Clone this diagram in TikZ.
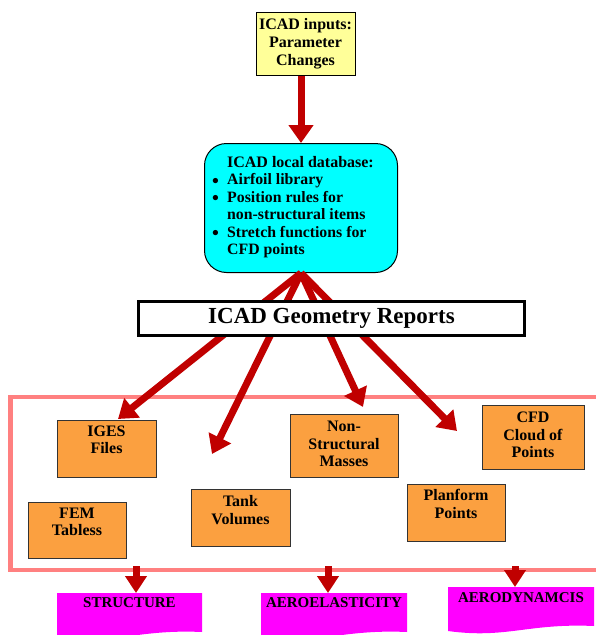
\documentclass[tikz,border=0pt]{standalone}
\usepackage{fontspec}
\setmainfont{Liberation Serif}
\usetikzlibrary{arrows.meta,calc}
\definecolor{arrred}{RGB}{192,0,0}
\definecolor{inyellow}{RGB}{255,255,153}
\definecolor{dbcyan}{RGB}{0,255,255}
\definecolor{boxorange}{RGB}{251,160,64}
\definecolor{docmag}{RGB}{255,0,255}
\definecolor{framepink}{RGB}{255,128,128}
\newcommand{\mybul}{\makebox[15pt][l]{\raisebox{-2.5pt}{\fontsize{19.5}{17.5}\selectfont\textbullet}}}
\begin{document}
\begin{tikzpicture}[x=1pt,y=-1pt,
  bigarrow/.style={draw=arrred, line width=7pt, -{Triangle[width=24pt,length=18pt]}},
  smallarrow/.style={draw=arrred, line width=7pt, -{Triangle[width=21pt,length=17pt]}},
  obox/.style={draw=black!80, line width=1pt, fill=boxorange, inner sep=0pt, anchor=north west},
  otext/.style={align=center, inner sep=0pt, font=\bfseries\fontsize{16}{17.5}\selectfont},
  doctext/.style={inner sep=0pt, font=\bfseries\fontsize{15}{17}\selectfont},
  docshape/.style={fill=docmag, draw=none}]
\useasboundingbox (0,0) rectangle (595,635);

% pink frame
\draw[framepink, line width=4.5pt] (10.5,397) rectangle (610,570);

% input box
\node[draw=black, line width=1pt, fill=inyellow, minimum width=99pt, minimum height=63pt, inner sep=0pt, anchor=north west,
      align=center, font=\bfseries\fontsize{16}{17.8}\selectfont] (inp) at (255.5,12) {ICAD inputs:\\Parameter\\Changes};

% database box
\node[draw=black, line width=1pt, fill=dbcyan, rounded corners=22pt, minimum width=193pt, minimum height=129pt,
      inner sep=0pt, anchor=north west] (db) at (204,143) {};
\node[inner sep=0pt, font=\bfseries\fontsize{16}{17.5}\selectfont] (dbtitle) at (300.5,162) {ICAD local database:};
\node[inner sep=0pt, anchor=base west, font=\bfseries\fontsize{15.8}{17.6}\selectfont] (dblist) at (212,184.5)
  {\begin{tabular}[t]{@{}l@{}l@{}}
   \mybul & Airfoil library\\
   \mybul & Position rules for\\
   & non-structural items\\
   \mybul & Stretch functions for\\
   & CFD points
   \end{tabular}};

% orange boxes
\node[obox, minimum width=99pt, minimum height=57pt] (iges) at (57,420) {};
\node[otext] (igesT) at (106.5,440) {IGES\\Files};
\node[obox, minimum width=98pt, minimum height=56pt] (fem) at (28,502) {};
\node[otext] (femT) at (77,522) {FEM\\Tabless};
\node[obox, minimum width=99pt, minimum height=57pt] (tank) at (191,489) {};
\node[otext] (tankT) at (240.5,510) {Tank\\Volumes};
\node[obox, minimum width=108pt, minimum height=63pt] (nsm) at (290,414) {};
\node[otext] (nsmT) at (344,444) {Non-\\Structural\\Masses};
\node[obox, minimum width=102pt, minimum height=64pt] (cfd) at (482,405) {};
\node[otext] (cfdT) at (533,435) {CFD\\Cloud of\\Points};
\node[obox, minimum width=98pt, minimum height=57pt] (plan) at (407,484) {};
\node[otext] (planT) at (456,504) {Planform\\Points};

% arrow end points
\coordinate (eIges) at (118,419);
\coordinate (eTank) at (212,454);
\coordinate (eNsm) at (363,407);
\coordinate (eCfd) at (457,431);

% arrows
\draw[bigarrow] (inp.south -| db.south) -- (db.north);
\draw[bigarrow] (db.south) -- (eIges);
\draw[bigarrow] (db.south) -- (eTank);
\draw[bigarrow] (db.south) -- (eNsm);
\draw[bigarrow] (db.south) -- (eCfd);

% geometry reports box
\node[draw=black, line width=3pt, fill=white, minimum width=386pt, minimum height=34pt, inner sep=0pt,
      font=\bfseries\fontsize{23}{26}\selectfont] (geo) at (331.5,318.5) {ICAD Geometry Reports};

% documents
\path[docshape] (57,593) -- (202,593) -- (202,632) .. controls (137,629) and (115,645) .. (57,637) -- cycle;
\path[docshape] (261,593) -- (407,593) -- (407,632) .. controls (341,629) and (319,645) .. (261,637) -- cycle;
\path[docshape] (448,587) -- (594,587) -- (594,626) .. controls (528,623) and (506,639) .. (448,631) -- cycle;
\node[doctext] (struct) at (129.5,603) {STRUCTURE};
\node[doctext] (aeroel) at (334,603) {AEROELASTICITY};
\node[doctext] (aerodyn) at (521,598) {AERODYNAMCIS};

\coordinate (sStruct) at (136,566);
\coordinate (sAeroel) at (328,566);
\coordinate (sAerodyn) at (515,566);
\coordinate (tStruct) at (136,593);
\coordinate (tAeroel) at (328,593);
\coordinate (tAerodyn) at (515,587);
\draw[smallarrow] (sStruct) -- (tStruct);
\draw[smallarrow] (sAeroel) -- (tAeroel);
\draw[smallarrow] (sAerodyn) -- (tAerodyn);
\end{tikzpicture}
\end{document}
